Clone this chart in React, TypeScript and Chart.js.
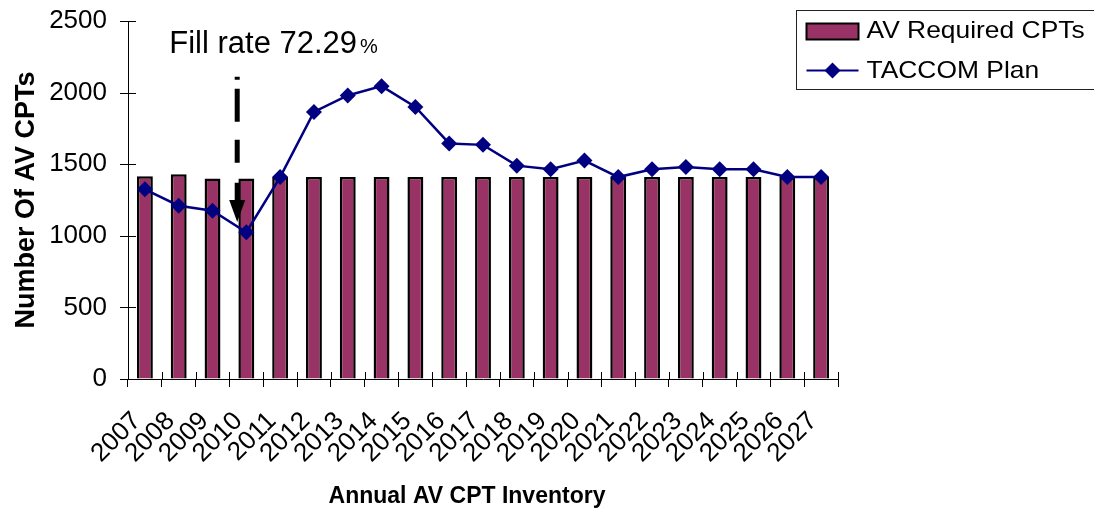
import React, { useEffect, useRef } from "react";
import { Chart, registerables } from "chart.js";

Chart.register(...registerables);

const years = ["2007","2008","2009","2010","2011","2012","2013","2014","2015","2016","2017","2018","2019","2020","2021","2022","2023","2024","2025","2026","2027"];
const requiredCPTs = [1415,1430,1400,1400,1410,1410,1410,1410,1410,1410,1410,1410,1410,1410,1410,1410,1410,1410,1410,1410,1410];
const taccomPlan = [1325,1210,1175,1025,1410,1865,1980,2045,1900,1645,1635,1490,1465,1525,1410,1465,1480,1465,1465,1410,1410];
const yTicks = [0, 500, 1000, 1500, 2000, 2500];
const datasetsLabels = ["AV Required CPTs", "TACCOM Plan"];
const xTitle = "Annual AV CPT Inventory";

const FONT = "'Liberation Sans', Arial, sans-serif";
const BAR_COLOR = "#993366";
const LINE_COLOR = "#000080";

const annotationPlugin = {
  id: "fillRateAnnotation",
  afterDatasetsDraw(chart: any) {
    const { ctx, scales } = chart;
    const x = scales.x;
    const y = scales.y;
    ctx.save();
    const tx = x.getPixelForValue(0.72);
    const ty = y.getPixelForValue(2276);
    ctx.fillStyle = "#000";
    ctx.textBaseline = "alphabetic";
    ctx.textAlign = "left";
    ctx.font = `31px ${FONT}`;
    const main = "Fill rate 72.29";
    ctx.fillText(main, tx, ty);
    const w = ctx.measureText(main).width;
    ctx.font = `20px ${FONT}`;
    ctx.fillText("%", tx + w + 3, ty);
    const ax = x.getPixelForValue(2.73);
    const yTop = y.getPixelForValue(2110);
    const yTip = y.getPixelForValue(1096);
    const headH = 22;
    ctx.strokeStyle = "#000";
    ctx.lineWidth = 5;
    ctx.lineCap = "butt";
    ctx.setLineDash([3, 9, 33, 18, 23, 20, 200]);
    ctx.beginPath();
    ctx.moveTo(ax, yTop);
    ctx.lineTo(ax, yTip - headH + 6);
    ctx.stroke();
    ctx.setLineDash([]);
    ctx.beginPath();
    ctx.moveTo(ax - 8, yTip - headH);
    ctx.lineTo(ax + 8, yTip - headH);
    ctx.lineTo(ax, yTip);
    ctx.closePath();
    ctx.fill();
    ctx.restore();
  },
};

const crossTicksPlugin = {
  id: "crossTicks",
  afterDraw(chart: any) {
    const { ctx, chartArea, scales } = chart;
    ctx.save();
    ctx.strokeStyle = "#000";
    ctx.lineWidth = 1;
    ctx.beginPath();
    yTicks.forEach((v) => {
      const py = Math.round(scales.y.getPixelForValue(v)) + 0.5;
      ctx.moveTo(chartArea.left - 8, py);
      ctx.lineTo(chartArea.left + 8, py);
    });
    const n = years.length;
    const cw = (chartArea.right - chartArea.left) / n;
    for (let i = 0; i <= n; i++) {
      const px = Math.round(chartArea.left + i * cw) + 0.5;
      ctx.moveTo(px, chartArea.bottom);
      ctx.lineTo(px, chartArea.bottom - 7);
    }
    ctx.stroke();
    // x axis title
    ctx.fillStyle = "#000";
    ctx.font = `bold 23px ${FONT}`;
    ctx.textAlign = "center";
    ctx.textBaseline = "alphabetic";
    ctx.fillText(xTitle, (chartArea.left + chartArea.right) / 2 - 16, chart.height - 7);
    ctx.restore();
  },
};

const legendPlugin = {
  id: "boxLegend",
  afterDraw(chart: any) {
    const { ctx, chartArea } = chart;
    ctx.save();
    const bx = Math.round(chartArea.right - 42) + 0.5;
    const by = 10.5;
    const bw = chart.width - bx + 10;
    const bh = 79;
    ctx.fillStyle = "#fff";
    ctx.fillRect(bx, by, bw, bh);
    ctx.strokeStyle = "#222";
    ctx.lineWidth = 1;
    ctx.strokeRect(bx, by, bw, bh);
    ctx.fillStyle = BAR_COLOR;
    ctx.fillRect(bx + 10, by + 13, 52, 16);
    ctx.strokeStyle = "#000";
    ctx.lineWidth = 2;
    ctx.strokeRect(bx + 10, by + 13, 52, 16);
    const drawText = (t: string, px: number, py: number) => {
      ctx.save();
      ctx.translate(px, py);
      ctx.scale(1.1, 1);
      ctx.fillStyle = "#000";
      ctx.font = `24px ${FONT}`;
      ctx.textAlign = "left";
      ctx.textBaseline = "middle";
      ctx.fillText(t, 0, 0);
      ctx.restore();
    };
    drawText(datasetsLabels[0], bx + 70, by + 21);
    const ly = by + 60;
    ctx.strokeStyle = LINE_COLOR;
    ctx.lineWidth = 2;
    ctx.beginPath();
    ctx.moveTo(bx + 10, ly);
    ctx.lineTo(bx + 62, ly);
    ctx.stroke();
    ctx.fillStyle = LINE_COLOR;
    ctx.beginPath();
    const cx = bx + 36;
    ctx.moveTo(cx, ly - 8);
    ctx.lineTo(cx + 8, ly);
    ctx.lineTo(cx, ly + 8);
    ctx.lineTo(cx - 8, ly);
    ctx.closePath();
    ctx.fill();
    drawText(datasetsLabels[1], bx + 70, ly + 1);
    ctx.restore();
  },
};

export default function App() {
  const canvasRef = useRef<HTMLCanvasElement | null>(null);

  useEffect(() => {
    if (!canvasRef.current) return;
    const chart = new Chart(canvasRef.current, {
      type: "bar",
      data: {
        labels: years,
        datasets: [
          {
            type: "line",
            label: datasetsLabels[1],
            data: taccomPlan,
            borderColor: LINE_COLOR,
            backgroundColor: LINE_COLOR,
            borderWidth: 2.5,
            pointStyle: "rectRot",
            pointRadius: 8,
            pointBorderWidth: 0,
            pointBackgroundColor: LINE_COLOR,
            tension: 0,
            order: 0,
          } as any,
          {
            type: "bar",
            label: datasetsLabels[0],
            data: requiredCPTs,
            backgroundColor: BAR_COLOR,
            borderColor: "#000",
            borderWidth: 2.5,
            barPercentage: 0.47,
            categoryPercentage: 1,
            order: 1,
          },
        ],
      },
      options: {
        responsive: false,
        animation: false,
        layout: { padding: { left: 0, top: 21, right: 256, bottom: 0 } },
        plugins: {
          legend: { display: false },
          tooltip: { enabled: false },
        },
        scales: {
          x: {
            offset: true,
            grid: {
              display: true,
              offset: true,
              drawOnChartArea: false,
              drawTicks: true,
              tickLength: 8,
              color: "#000",
            },
            border: { display: true, color: "#000", width: 1 },
            ticks: {
              minRotation: 45,
              maxRotation: 45,
              autoSkip: false,
              padding: 19,
              labelOffset: -8,
              color: "#000",
              font: { family: FONT, size: 26 },
            },
            title: { display: false },
            afterFit: (scale: any) => {
              scale.height = 131;
            },
          },
          y: {
            min: 0,
            max: 2500,
            grid: {
              display: true,
              drawOnChartArea: false,
              drawTicks: true,
              tickLength: 21,
              tickColor: "rgba(0,0,0,0)",
              color: "#000",
            },
            border: { display: true, color: "#000", width: 1 },
            afterBuildTicks: (scale: any) => {
              scale.ticks = yTicks.map((v) => ({ value: v }));
            },
            ticks: {
              padding: 0,
              color: "#000",
              font: { family: FONT, size: 26 },
              callback: (v: any) => String(v),
            },
            title: {
              display: true,
              text: "Number Of AV CPTs",
              color: "#000",
              font: { family: FONT, size: 27, weight: "bold" },
              padding: { top: 10, bottom: 0 },
            },
            afterFit: (scale: any) => {
              scale.width = 128;
            },
          },
        },
      },
      plugins: [annotationPlugin, crossTicksPlugin, legendPlugin],
    });
    return () => chart.destroy();
  }, []);

  return (
    <div style={{ position: "fixed", left: 0, top: 0, width: 1094, height: 510, background: "#fff" }}>
      <canvas ref={canvasRef} width={1094} height={510} style={{ display: "block" }} />
    </div>
  );
}
